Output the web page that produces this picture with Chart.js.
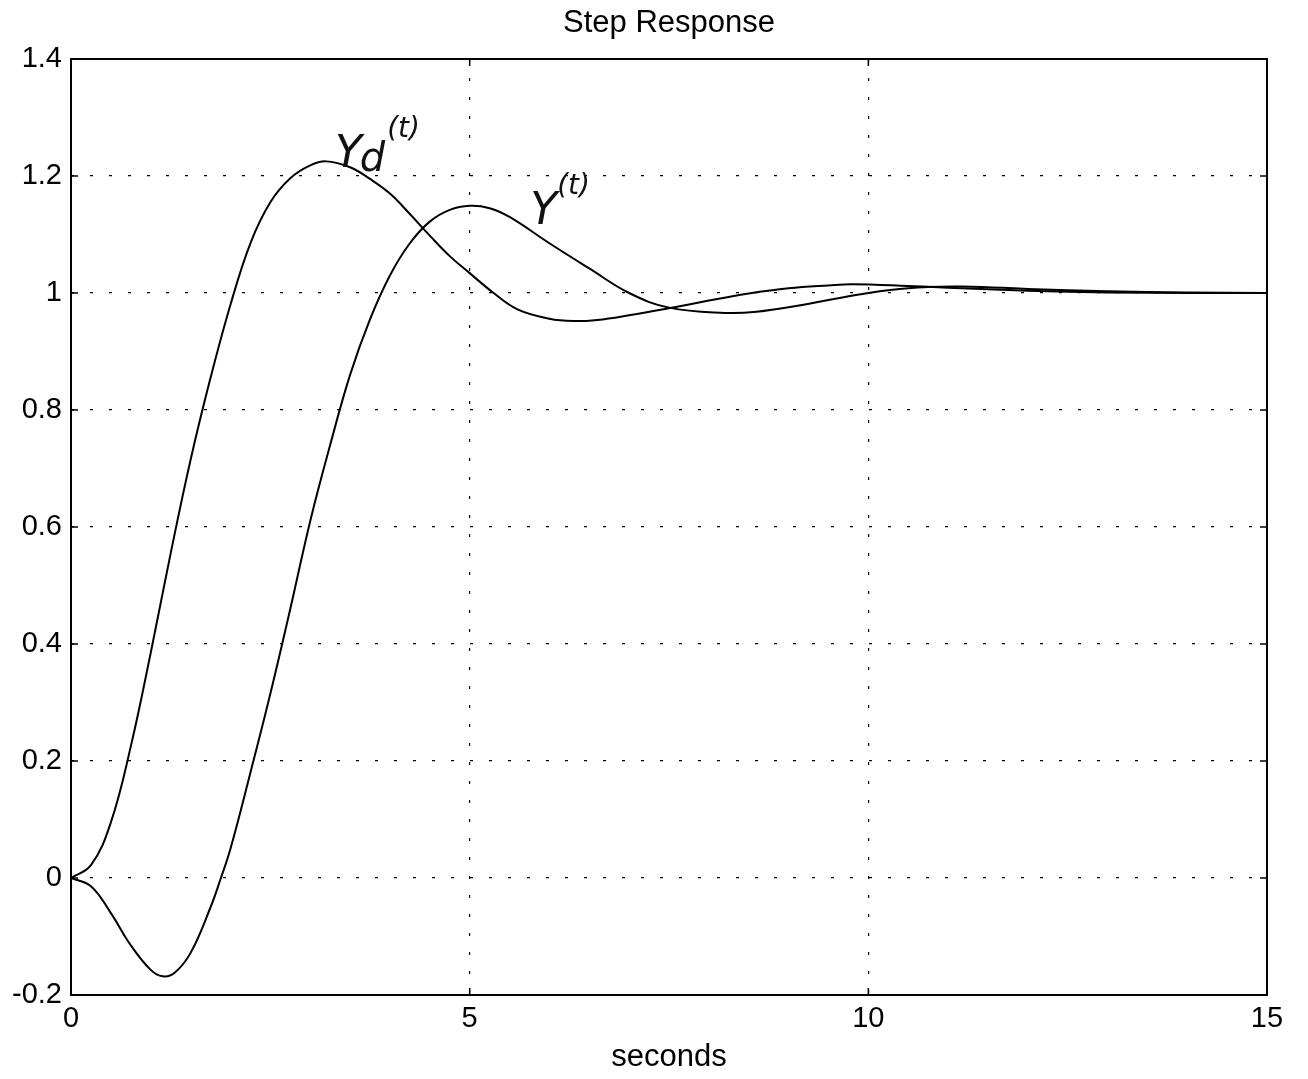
<!DOCTYPE html>
<html>
<head>
<meta charset="utf-8">
<script src="https://cdn.jsdelivr.net/npm/chart.js@4.4.1/dist/chart.umd.min.js"></script>
<style>
  html, body { margin: 0; padding: 0; background: #fff; }
  #wrap { width: 1308px; height: 1079px; }
</style>
</head>
<body>
<div id="wrap"><canvas id="stepChart" width="1308" height="1079"></canvas></div>
<script>
// Yd(t) - desired response
const timeYd = [0, 0.25, 0.5, 0.75, 1, 1.25, 1.5, 1.75, 2, 2.25, 2.5, 2.75, 3, 3.2, 3.5, 3.75, 4, 4.25, 4.5, 4.75, 5, 5.3, 5.6, 6, 6.3, 6.6, 7, 7.5, 8, 8.5, 9, 9.5, 9.8, 10.5, 11, 12, 13, 14, 15];
const valuesYd = [0, 0.022, 0.095, 0.225, 0.385, 0.555, 0.715, 0.855, 0.98, 1.085, 1.155, 1.196, 1.218, 1.225, 1.215, 1.195, 1.17, 1.135, 1.098, 1.063, 1.034, 1.0, 0.972, 0.956, 0.952, 0.954, 0.962, 0.974, 0.987, 0.999, 1.008, 1.013, 1.015, 1.012, 1.009, 1.004, 1.001, 1.0, 1.0];

// Y(t) - actual response
const timeY = [0, 0.25, 0.5, 0.75, 1, 1.15, 1.3, 1.5, 1.75, 1.88, 2, 2.25, 2.5, 2.75, 3, 3.25, 3.5, 3.75, 4, 4.25, 4.5, 4.75, 5, 5.25, 5.5, 6, 6.5, 7, 7.5, 8.2, 8.6, 9.15, 9.5, 10, 10.5, 11.1, 11.5, 12, 13, 14, 15];
const valuesY = [0, -0.014, -0.06, -0.115, -0.157, -0.168, -0.162, -0.128, -0.05, 0, 0.05, 0.18, 0.315, 0.46, 0.61, 0.74, 0.86, 0.955, 1.03, 1.085, 1.122, 1.142, 1.149, 1.145, 1.13, 1.085, 1.042, 1.0, 0.975, 0.966, 0.968, 0.979, 0.988, 1.0, 1.008, 1.011, 1.01, 1.007, 1.003, 1.001, 1.0];

const xTicks = [0, 5, 10, 15];
const yTicks = [-0.2, 0, 0.2, 0.4, 0.6, 0.8, 1, 1.2, 1.4];
const yTickLabels = ["-0.2", "0", "0.2", "0.4", "0.6", "0.8", "1", "1.2", "1.4"];

const titleText = "Step Response";

// handwritten notes on the plot: [t, value, main, sub, sup]
const notes = [
  [3.31, 1.215, "Y", "d", "(t)"],
  [5.76, 1.118, "Y", "", "(t)"]
];

const FONT = "'Liberation Sans', Arial, Helvetica, sans-serif";

function toPoints(xs, ys) {
  return xs.map((x, i) => ({ x: x, y: ys[i] }));
}

// title over the plot box, box around the axes, inward ticks, hand-written labels
const framePlugin = {
  id: "frame",
  afterDraw(chart) {
    const ctx = chart.ctx;
    const a = chart.chartArea;
    const xs = chart.scales.x;
    const ys = chart.scales.y;
    ctx.save();

    ctx.fillStyle = "#000";
    ctx.font = "31px " + FONT;
    ctx.textAlign = "center";
    ctx.textBaseline = "alphabetic";
    ctx.fillText(titleText, (a.left + a.right) / 2, 32);

    ctx.strokeStyle = "#000";
    ctx.lineWidth = 2;
    ctx.setLineDash([]);
    ctx.strokeRect(a.left, a.top, a.right - a.left, a.bottom - a.top);

    ctx.lineWidth = 1.5;
    ctx.beginPath();
    xTicks.forEach((t) => {
      const px = xs.getPixelForValue(t);
      ctx.moveTo(px, a.bottom); ctx.lineTo(px, a.bottom - 7);
      ctx.moveTo(px, a.top); ctx.lineTo(px, a.top + 7);
    });
    yTicks.forEach((v) => {
      const py = ys.getPixelForValue(v);
      ctx.moveTo(a.left, py); ctx.lineTo(a.left + 7, py);
      ctx.moveTo(a.right, py); ctx.lineTo(a.right - 7, py);
    });
    ctx.stroke();

    ctx.fillStyle = "#111";
    ctx.textAlign = "left";
    notes.forEach((n) => {
      let px = xs.getPixelForValue(n[0]);
      const py = ys.getPixelForValue(n[1]);
      ctx.font = "italic 44px 'DejaVu Sans', sans-serif";
      ctx.fillText(n[2], px, py);
      px += ctx.measureText(n[2]).width - 2;
      if (n[3]) {
        ctx.font = "italic 40px 'DejaVu Sans', sans-serif";
        ctx.fillText(n[3], px, py + 4);
        px += ctx.measureText(n[3]).width;
      }
      ctx.font = "italic 28px 'DejaVu Sans', sans-serif";
      ctx.fillText(n[4], px + 2, py - 30);
    });
    ctx.restore();
  }
};

new Chart(document.getElementById("stepChart"), {
  type: "line",
  data: {
    datasets: [
      {
        label: "Yd(t)",
        data: toPoints(timeYd, valuesYd),
        borderColor: "#000",
        borderWidth: 2,
        pointRadius: 0,
        fill: false,
        tension: 0.4
      },
      {
        label: "Y(t)",
        data: toPoints(timeY, valuesY),
        borderColor: "#000",
        borderWidth: 2,
        pointRadius: 0,
        fill: false,
        tension: 0.4
      }
    ]
  },
  options: {
    responsive: false,
    animation: false,
    devicePixelRatio: 1,
    layout: { padding: { left: 0, right: 41, top: 59, bottom: 0 } },
    plugins: {
      legend: { display: false },
      tooltip: { enabled: false },
      title: { display: false }
    },
    scales: {
      x: {
        type: "linear",
        min: 0,
        max: 15,
        afterBuildTicks(scale) { scale.ticks = xTicks.map((v) => ({ value: v })); },
        afterFit(scale) { scale.height = 84; },
        ticks: {
          color: "#000",
          padding: 7,
          maxRotation: 0,
          font: { family: FONT, size: 29 },
          callback: (v) => String(v)
        },
        grid: { color: "#000", lineWidth: 1.2, drawTicks: false },
        border: { display: false, dash: [3, 16] },
        title: {
          display: true,
          text: "seconds",
          color: "#000",
          font: { family: FONT, size: 31 },
          padding: { top: 0, bottom: 3 }
        }
      },
      y: {
        type: "linear",
        min: -0.2,
        max: 1.4,
        afterBuildTicks(scale) { scale.ticks = yTicks.map((v) => ({ value: v })); },
        afterFit(scale) { scale.width = 71; },
        ticks: {
          color: "#000",
          padding: 9,
          font: { family: FONT, size: 29 },
          callback: (v) => {
            const i = yTicks.findIndex((t) => Math.abs(t - v) < 1e-6);
            return i >= 0 ? yTickLabels[i] : "";
          }
        },
        grid: { color: "#000", lineWidth: 1.2, drawTicks: false },
        border: { display: false, dash: [3, 16] }
      }
    }
  },
  plugins: [framePlugin]
});
</script>
</body>
</html>
